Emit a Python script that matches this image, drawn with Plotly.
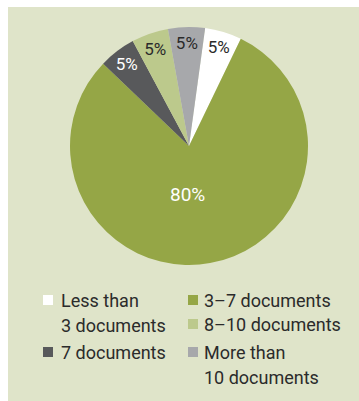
import plotly.graph_objects as go

# Share of cases by number of documents
categories = ["Less than<br>3 documents", "3–7 documents", "7 documents",
              "8–10 documents", "More than<br>10 documents"]
shares = [5, 80, 5, 5, 5]
colors = ["#ffffff", "#95a646", "#58595b", "#bcc98c", "#a7a8ab"]
text_colors = ["#2b2b2b", "#ffffff", "#ffffff", "#2b2b2b", "#2b2b2b"]

FONT = "Roboto, Liberation Sans, sans-serif"
W, H = 359, 401
BG = "#dfe4c9"
ROTATION = 7.8
BIG = shares.index(max(shares))

# Pie geometry in pixels
cx, cy, r = 189, 146, 119
dom_x = [(cx - r) / W, (cx + r) / W]
dom_y = [1 - (cy + r) / H, 1 - (cy - r) / H]

# Small slices get their value inside the slice; the large one is labelled separately
templates = ["" if i == BIG else "%{value}%" for i in range(len(shares))]

fig = go.Figure()
fig.add_trace(go.Pie(
    labels=categories,
    values=shares,
    sort=False,
    direction="clockwise",
    rotation=ROTATION,
    marker=dict(colors=colors, line=dict(width=0)),
    texttemplate=templates,
    textposition="inside",
    insidetextorientation="horizontal",
    textfont=dict(family=FONT, size=17, color=text_colors),
    hoverinfo="label+percent",
    showlegend=False,
    domain=dict(x=dom_x, y=dom_y),
))

# Label of the large slice, set below the pie's centre
lx = cx - 2
ly = cy + 0.405 * r

# Background panel
shapes = [dict(type="rect", xref="paper", yref="paper", x0=8 / W, x1=1.0,
               y0=0, y1=1 - 7 / H, fillcolor=BG, line=dict(width=0), layer="below")]
annotations = [dict(text=f"{shares[BIG]}%", xref="paper", yref="paper",
                    x=lx / W, y=1 - ly / H, xanchor="center", yanchor="middle",
                    showarrow=False,
                    font=dict(family=FONT, size=19, color=text_colors[BIG]))]

# Legend laid out in two columns
legend_items = [
    (0, 43, 300, 59, ["Less than", "3 documents"]),
    (2, 43, 352, 59, ["7 documents"]),
    (1, 188, 300, 202, ["3–7 documents"]),
    (3, 188, 324, 202, ["8–10 documents"]),
    (4, 188, 352, 202, ["More than", "10 documents"]),
]
line_gap = 25
for idx, mx, my, tx, lines in legend_items:
    shapes.append(dict(type="rect", xref="paper", yref="paper",
                       x0=mx / W, x1=(mx + 10) / W,
                       y0=1 - (my + 5) / H, y1=1 - (my - 5) / H,
                       fillcolor=colors[idx], line=dict(width=0)))
    for k, t in enumerate(lines):
        annotations.append(dict(text=t, xref="paper", yref="paper",
                                x=tx / W, y=1 - (my + k * line_gap) / H,
                                xanchor="left", yanchor="middle", showarrow=False,
                                font=dict(family=FONT, size=18, color="#2b2b2b")))

fig.update_layout(
    width=W, height=H,
    margin=dict(l=0, r=0, t=0, b=0),
    paper_bgcolor="#ffffff",
    plot_bgcolor="#ffffff",
    shapes=shapes,
    annotations=annotations,
    uniformtext=dict(minsize=17, mode="show"),
)

fig.write_html("out.html")
